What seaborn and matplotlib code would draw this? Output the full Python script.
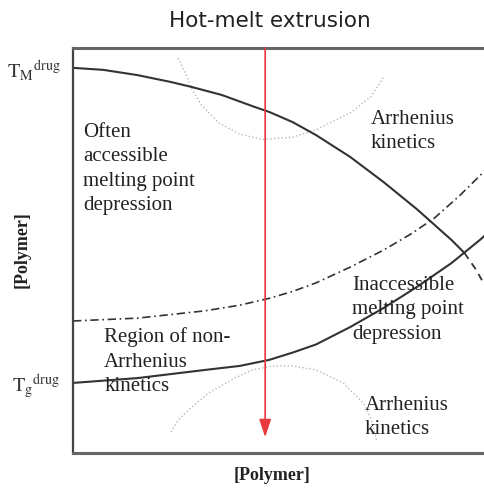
import numpy as np
import pandas as pd
import matplotlib
matplotlib.use("Agg")
import matplotlib.pyplot as plt
import seaborn as sns

sns.set_theme(style="white")
plt.rcParams["mathtext.fontset"] = "stix"

# Curves of the phase map, in axis units (0-100 on both axes)
tm_x = [0.0, 7.3, 15.5, 23.5, 28.4, 35.7, 43.7, 47.1, 52.7, 58.3, 66.5, 74.5, 82.5, 90.8, 93.9]
tm_y = [95.1, 94.6, 93.3, 91.6, 90.4, 88.4, 85.4, 84.2, 81.7, 78.5, 73.1, 66.9, 60.2, 52.6, 49.4]
tm_dash_x = [93.9, 96.6, 99.3]
tm_dash_y = [49.4, 45.4, 40.5]

tg_x = [0.0, 15.5, 31.6, 40.0, 47.1, 52.7, 58.3, 66.5, 74.5, 82.5, 90.8, 97.6, 100.0]
tg_y = [17.3, 18.5, 20.5, 21.5, 23.0, 24.8, 26.8, 31.1, 35.8, 41.0, 46.9, 52.6, 54.8]

mix_x = [0.0, 15.5, 31.6, 40.0, 47.1, 52.7, 58.3, 66.5, 74.5, 81.1, 86.7, 92.7, 100.0]
mix_y = [32.6, 33.3, 35.1, 36.5, 38.2, 39.9, 42.0, 45.9, 50.1, 54.1, 58.0, 63.5, 70.9]

arc_top_x = [25.2, 27.2, 28.4, 30.8, 34.9, 39.8, 45.4, 52.7, 58.3, 66.5, 71.4, 74.5]
arc_top_y = [97.5, 93.3, 90.1, 85.9, 81.6, 78.8, 77.4, 78.0, 79.8, 84.0, 87.9, 92.8]

arc_bot_x = [23.5, 25.2, 27.7, 32.5, 38.8, 43.0, 47.8, 52.7, 58.3, 64.8, 69.7, 71.6, 72.8]
arc_bot_y = [5.2, 8.1, 10.6, 14.8, 18.5, 20.5, 21.5, 21.5, 20.5, 17.3, 12.3, 8.1, 3.2]

arrow_x = 46.1
arrow_top, arrow_tip = 100.0, 3.9

ticks_y = [95.1, 17.3]
tick_labels = [r"$\mathrm{T_M}^{\mathrm{drug}}$", r"$\mathrm{T_g}^{\mathrm{drug}}$"]

fig = plt.figure(figsize=(4.85, 4.96), dpi=100)
ax = fig.add_axes([73 / 485, 43 / 496, 1 - 73 / 485 + 0.01, 405 / 496])

def draw(xs, ys, **kw):
    df = pd.DataFrame({"x": xs, "y": ys})
    sns.lineplot(data=df, x="x", y="y", sort=False, estimator=None, ax=ax, **kw)

draw(arc_top_x, arc_top_y, color="#b8b8b8", lw=1.0, linestyle=":")
draw(arc_bot_x, arc_bot_y, color="#b8b8b8", lw=1.0, linestyle=":")
draw(mix_x, mix_y, color="#333333", lw=1.2, linestyle=(0, (5, 2.2, 1, 2.2)))
draw(tm_x, tm_y, color="#333333", lw=1.5)
draw(tm_dash_x, tm_dash_y, color="#333333", lw=1.3, linestyle=(0, (4, 3)))
draw(tg_x, tg_y, color="#333333", lw=1.5)

ax.annotate("", xy=(arrow_x, arrow_tip), xytext=(arrow_x, arrow_top),
            arrowprops=dict(arrowstyle="-|>,head_length=0.9,head_width=0.3",
                            color="#e83a3c", lw=1.2, shrinkA=0, shrinkB=0))

ax.set_xlim(0, 100)
ax.set_ylim(0, 100)
ax.set_xticks([])
ax.set_yticks(ticks_y)
ax.set_yticklabels(tick_labels, fontsize=14.5, color="#333333")
ax.tick_params(axis="y", length=0, pad=9)
ax.set_xlabel("")
ax.set_ylabel("")

for side in ("top", "bottom"):
    ax.spines[side].set_color("#666666")
    ax.spines[side].set_linewidth(2.2)
ax.spines["left"].set_color("#444444")
ax.spines["left"].set_linewidth(1.6)
ax.spines["right"].set_visible(False)

serif = "Liberation Serif"
tkw = dict(family=serif, fontsize=15, color="#222222", va="top", ha="left",
           linespacing=1.38, transform=ax.transData)
ax.text(2.4, 81.5, "Often\naccessible\nmelting point\ndepression", **tkw)
ax.text(71.4, 84.7, "Arrhenius\nkinetics", **tkw)
ax.text(66.9, 43.7, "Inaccessible\nmelting point\ndepression", **tkw)
ax.text(7.5, 31.0, "Region of non-\nArrhenius\nkinetics", **tkw)
ax.text(69.9, 14.1, "Arrhenius\nkinetics", **tkw)

fig.text(270 / 485, 1 - 21 / 496, "Hot-melt extrusion", family="DejaVu Sans",
         fontsize=15.5, color="#222222", ha="center", va="center")
fig.text(272 / 485, 1 - 476 / 496, "[Polymer]", family=serif, fontweight="bold",
         fontsize=13, color="#222222", ha="center", va="center")
fig.text(22 / 485, 1 - 250 / 496, "[Polymer]", family=serif, fontweight="bold",
         fontsize=13, color="#222222", ha="center", va="center", rotation=90)

fig.savefig("out.png", dpi=100)
